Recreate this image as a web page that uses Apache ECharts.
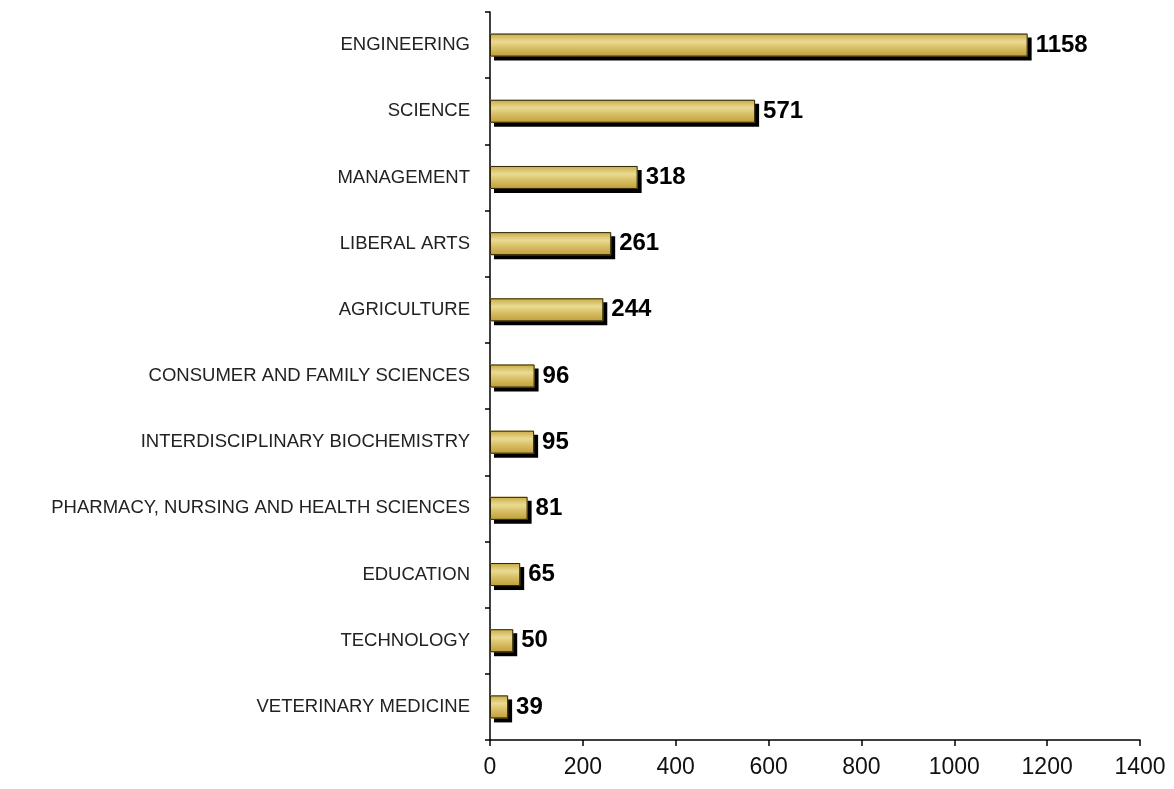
<!DOCTYPE html>
<html>
<head>
<meta charset="utf-8">
<script src="https://cdn.jsdelivr.net/npm/echarts@6/dist/echarts.min.js"></script>
<style>
    html, body { margin: 0; padding: 0; background: #fff; }
    #chart { width: 1174px; height: 789px; }
</style>
</head>
<body>
<div id="chart"></div>
<script>
// data, bottom to top in echarts category order
const categories = [
    'VETERINARY MEDICINE',
    'TECHNOLOGY',
    'EDUCATION',
    'PHARMACY, NURSING AND HEALTH SCIENCES',
    'INTERDISCIPLINARY BIOCHEMISTRY',
    'CONSUMER AND FAMILY SCIENCES',
    'AGRICULTURE',
    'LIBERAL ARTS',
    'MANAGEMENT',
    'SCIENCE',
    'ENGINEERING'
];
const values = [39, 50, 65, 81, 95, 96, 244, 261, 318, 571, 1158];
const xTicks = [0, 200, 400, 600, 800, 1000, 1200, 1400];

const chart = echarts.init(document.getElementById('chart'));
chart.setOption({
    animation: false,
    grid: {
        left: 490,
        right: 34,
        top: 12,
        bottom: 49
    },
    xAxis: {
        type: 'value',
        min: xTicks[0],
        max: xTicks[xTicks.length - 1],
        interval: 200,
        axisLine: { show: true, lineStyle: { color: '#000', width: 1.5 } },
        axisTick: { show: true, length: 6, lineStyle: { color: '#000', width: 1.5 } },
        axisLabel: {
            margin: 16,
            color: '#111',
            fontFamily: 'Liberation Sans, Arial, sans-serif',
            fontSize: 23,
            formatter: v => String(v)
        },
        splitLine: { show: false }
    },
    yAxis: {
        type: 'category',
        data: categories,
        axisLine: { show: true, lineStyle: { color: '#000', width: 1.5 } },
        axisTick: { show: true, length: 5, lineStyle: { color: '#000', width: 1.5 } },
        axisLabel: {
            margin: 20,
            color: '#222',
            fontFamily: 'Liberation Sans, Arial, sans-serif',
            fontSize: 18.5
        }
    },
    series: [
        {
            // filled bar with the hard black drop shadow
            type: 'bar',
            data: values,
            barWidth: 23,
            barGap: '-100%',
            z: 2,
            itemStyle: {
                color: new echarts.graphic.LinearGradient(0, 0, 0, 1, [
                    { offset: 0, color: '#c9aa45' },
                    { offset: 0.35, color: '#eadb93' },
                    { offset: 0.6, color: '#d9c169' },
                    { offset: 1, color: '#c09d38' }
                ]),
                shadowColor: '#000',
                shadowBlur: 0,
                shadowOffsetX: 4,
                shadowOffsetY: 4
            }
        },
        {
            // outline + value label on top, no shadow
            type: 'bar',
            data: values,
            barWidth: 23,
            barGap: '-100%',
            z: 3,
            silent: true,
            itemStyle: {
                color: 'rgba(0,0,0,0)',
                borderColor: '#2e2608',
                borderWidth: 1
            },
            label: {
                show: true,
                position: 'right',
                distance: 8,
                color: '#000',
                fontWeight: 'bold',
                fontFamily: 'Liberation Sans Narrow, Liberation Sans, Arial, sans-serif',
                fontSize: 24
            }
        }
    ]
});
</script>
</body>
</html>
